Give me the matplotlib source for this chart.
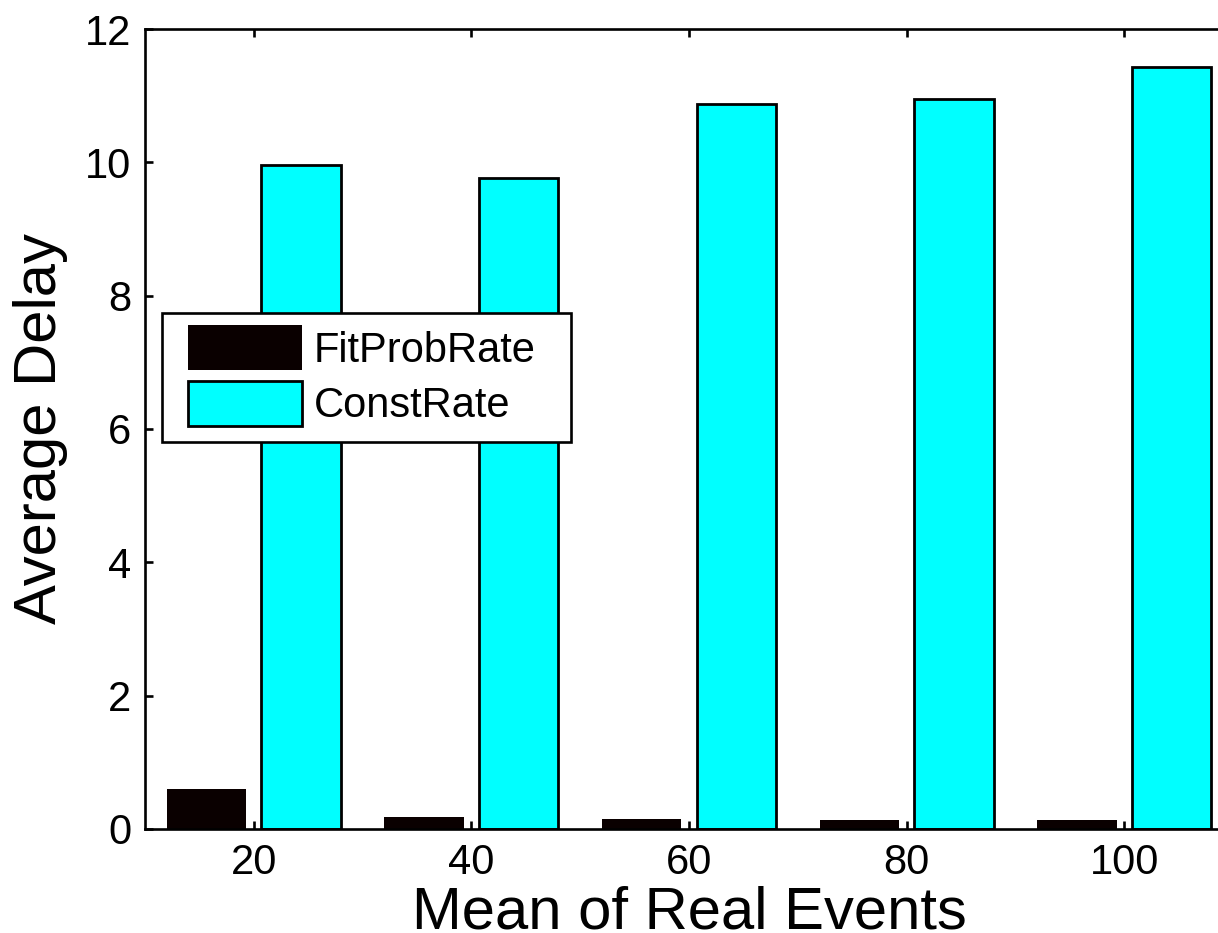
import matplotlib
matplotlib.use("Agg")
import matplotlib.pyplot as plt
import numpy as np
from matplotlib.patches import Patch, Rectangle

# Average delay per mean of real events
means = [20, 40, 60, 80, 100]
fit_prob_rate = [0.60, 0.18, 0.15, 0.14, 0.14]
const_rate = [9.96, 9.77, 10.87, 10.95, 11.43]
series_names = ["FitProbRate", "ConstRate"]
y_ticks = [0, 2, 4, 6, 8, 10, 12]

plt.rcParams["font.family"] = ["Liberation Sans", "DejaVu Sans"]

W, H = 1218, 933
fig = plt.figure(figsize=(W / 100, H / 100), dpi=100)
ax = fig.add_axes([145 / W, 1 - 829 / H, (1233 - 145) / W, (829 - 29) / H])

x = np.array(means, dtype=float)
offset = 4.35
width = 7.3
black = "#0a0000"
cyan = "#00ffff"

ax.bar(x - offset, fit_prob_rate, width=width, color=black, edgecolor="none")
ax.bar(x + offset, const_rate, width=width, color=cyan, edgecolor="black", linewidth=2.0)

ax.set_xlim(10, 110)
ax.set_ylim(0, 12)
ax.set_xticks(means)
ax.set_yticks(y_ticks)

for s in ax.spines.values():
    s.set_linewidth(1.9)
ax.tick_params(direction="in", length=6, width=1.9, top=True, right=True,
               labelsize=30, pad=10)

ax.set_xlabel("Mean of Real Events", fontsize=43, labelpad=2)
ax.set_ylabel("Average Delay", fontsize=43, labelpad=12)

# Legend box (MATLAB-style, wider padding on the right)
frame = Rectangle((162 / W, 1 - 442 / H), (571 - 162) / W, (442 - 313) / H,
                  transform=fig.transFigure, facecolor="white",
                  edgecolor="black", linewidth=1.9, zorder=4)
ax.add_artist(frame)

handles = [Patch(facecolor=black, edgecolor="none"),
           Patch(facecolor=cyan, edgecolor="black", linewidth=2.0)]
leg = ax.legend(handles, series_names, loc="upper left",
                bbox_to_anchor=(188 / W, 1 - 325 / H),
                bbox_transform=fig.transFigure, fontsize=30,
                frameon=False, handlelength=2.74, handleheight=1.29,
                handletextpad=0.27, labelspacing=0.25, borderpad=0,
                borderaxespad=0)
leg.set_zorder(5)

fig.savefig("out.png", dpi=100)
